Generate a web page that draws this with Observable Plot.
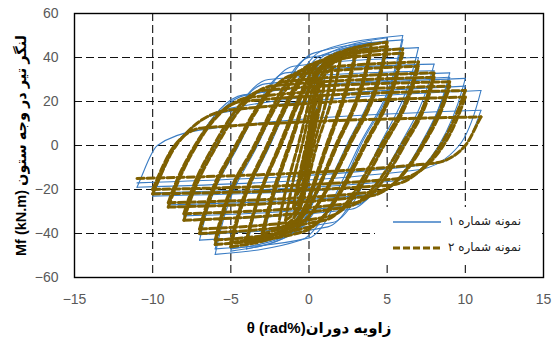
<!DOCTYPE html>
<html>
<head>
<meta charset="utf-8">
<script src="https://cdn.jsdelivr.net/npm/d3@7"></script>
<script src="https://cdn.jsdelivr.net/npm/@observablehq/plot@0.6"></script>
<style>
  html, body { margin: 0; padding: 0; background: #fff; }
  #wrap { position: relative; width: 553px; height: 344px; }
  #legend { position: absolute; left: 375px; top: 207px; width: 166px; height: 55px; background: #fff;
            font-family: "DejaVu Sans", sans-serif; font-size: 12px; color: #222; }
  .row { position: absolute; left: 0; height: 20px; width: 166px; }
  .row svg { position: absolute; left: 17px; top: 4px; }
  .row span { position: absolute; left: 73px; top: 1px; white-space: nowrap; }
</style>
</head>
<body>
<div id="wrap">
  <div id="chart"></div>
  <div id="legend"></div>
</div>
<script>
// Axis ticks and titles
const xTicks = [-15, -10, -5, 0, 5, 10, 15];
const yTicks = [-60, -40, -20, 0, 20, 40, 60];
const xTitle = "θ (rad%)زاویه دوران";
const yTitle = "Mf (kN.m) لنگر تیر در وجه ستون";
const seriesNames = ["نمونه شماره ۱", "نمونه شماره ۲"];

// Specimen 1 (blue): per cycle amplitude (rad%), peak moments, tip points, zero crossings and knee points
const amp1  = [0.375, 0.5, 0.75, 1, 1.5, 2, 3, 3, 4, 4, 5, 5, 6, 6, 7, 7, 8, 8, 9, 9, 10, 10, 11, 11];
const mPos1 = [12, 17, 24, 30, 37, 41, 45, 43, 47, 45, 49, 47, 50, 48, 44.5, 40, 37, 34, 33, 31, 30.5, 27, 25, 16];
const mNeg1 = [-11, -16, -23, -29, -36, -40, -44, -42, -47, -45, -48, -47, -49.5, -47, -43, -40.5, -34, -32, -28, -27, -23, -21.5, -19, -17];
const dUx1  = [0.33, 0.45, 0.69, 0.93, 1.42, 1.9, 2.85, 2.85, 3.85, 3.85, 4.85, 4.85, 5.85, 5.85, 6.85, 6.85, 7.85, 7.85, 8.85, 8.85, 9.85, 9.85, 10.85, 10.85];
const dUy1  = [10.5, 15, 21.5, 27, 33.5, 37, 40, 38, 42, 40, 44, 42, 45, 43, 40, 36, 33, 30, 29, 27.5, 26.5, 23.5, 21, 13];
const dRx1  = [-0.33, -0.45, -0.69, -0.93, -1.42, -1.9, -2.85, -2.85, -3.85, -3.85, -4.85, -4.85, -5.85, -5.85, -6.85, -6.85, -7.85, -7.85, -8.85, -8.85, -9.85, -9.85, -10.85, -10.85];
const dRy1  = [-9.5, -14, -20.5, -26, -32.5, -36, -39.5, -37.5, -42, -40, -43, -42, -44.5, -42, -38.5, -36, -30.5, -28.5, -25, -24, -20.5, -19, -16.5, -14.5];
const xr1   = [0, -0.05, -0.08, -0.12, -0.2, -0.45, -0.7, -1.2, -1.3, -1.8, -1.9, -2.5, -2.6, -3.3, -3.4, -4.5, -4.6, -5.9, -6.0, -7.2, -7.3, -8.5, -8.6, -9.7];
const kRx1  = [0.15, 0.22, 0.35, 0.45, 0.6, 0.7, 0.8, 0.7, 0.9, 0.8, 1.0, 0.8, 0.8, 0.3, 0.0, -1.0, -1.5, -2.6, -2.8, -4.0, -4.2, -5.0, -5.5, -7.0];
const kRy1  = [8, 12, 18, 23, 29, 33, 37, 36, 39, 38, 41, 41, 43, 42, 40, 36, 33, 30, 28, 23, 23, 17, 15, 7];
const xu1   = [0.03, 0.05, 0.1, 0.15, 0.3, 0.5, 1.1, 1.2, 1.7, 1.8, 2.4, 2.5, 3.2, 3.3, 4.5, 4.7, 5.8, 6.0, 7.1, 7.2, 8.3, 8.5, 9.6, 10.0];
const kUx1  = [-0.15, -0.22, -0.35, -0.45, -0.6, -0.7, -0.8, -0.7, -0.9, -0.8, -1.0, -0.8, -0.5, 0.0, 1.2, 1.5, 2.7, 3.0, 4.0, 4.3, 5.2, 5.6, 7.0, 8.2];
const kUy1  = [-7, -11, -17, -22, -28, -32, -36, -35, -39, -37, -40, -39, -43, -42, -37, -35, -29, -27, -23, -22, -18, -16, -11, -8];

// Specimen 2 (brown dashed)
const amp2  = [0.375, 0.5, 0.75, 1, 1.5, 2, 3, 3, 4, 4, 5, 5, 6, 6, 7, 7, 8, 8, 9, 9, 10, 10, 11];
const mPos2 = [11, 16, 23, 29, 35, 39, 43, 41, 46, 44, 47, 45, 44, 42, 38, 36, 33, 31, 29, 27, 25, 22, 13];
const mNeg2 = [-10, -15, -22, -28, -34, -38, -42, -40, -44, -43, -46, -44, -45, -43, -40, -38, -34, -31, -28, -26, -22, -20, -15];
const dUx2  = [0.33, 0.45, 0.69, 0.93, 1.42, 1.9, 2.85, 2.85, 3.85, 3.85, 4.85, 4.85, 5.85, 5.85, 6.85, 6.85, 7.85, 7.85, 8.85, 8.85, 9.85, 9.85, 10.85];
const dUy2  = [9.5, 14, 20.5, 26, 31.5, 35, 38.5, 36.5, 41, 39, 42, 40, 39.5, 37.5, 34, 32, 29, 27, 25.5, 23.5, 22, 19, 11];
const dRx2  = [-0.33, -0.45, -0.69, -0.93, -1.42, -1.9, -2.85, -2.85, -3.85, -3.85, -4.85, -4.85, -5.85, -5.85, -6.85, -6.85, -7.85, -7.85, -8.85, -8.85, -9.85, -9.85, -10.85];
const dRy2  = [-8.5, -13, -19.5, -25, -30.5, -34, -37.5, -35.5, -39.5, -38.5, -41.5, -39.5, -40.5, -38.5, -36, -34, -30.5, -27.5, -25, -23, -19.5, -17.5, -13];
const xr2   = [0, -0.05, -0.08, -0.12, -0.2, -0.45, -0.7, -1.2, -1.3, -1.8, -1.9, -2.6, -2.7, -3.4, -3.5, -4.6, -4.7, -5.9, -6.1, -7.2, -7.3, -8.5, -8.6];
const kRx2  = [0.15, 0.22, 0.35, 0.45, 0.6, 0.7, 0.8, 0.7, 0.9, 0.8, 0.9, 0.7, 0.5, 0.2, -0.5, -1.0, -1.6, -2.4, -3.0, -3.7, -4.3, -5.2, -6.8];
const kRy2  = [7, 11, 17, 22, 27, 31, 35, 34, 37, 36, 39, 38, 38, 37, 34, 32, 29, 27, 25, 22, 20, 16, 8];
const xu2   = [0.03, 0.05, 0.1, 0.15, 0.3, 0.5, 1.1, 1.2, 1.7, 1.8, 2.5, 2.6, 3.5, 3.6, 4.6, 4.8, 5.9, 6.1, 7.2, 7.3, 8.4, 8.6, 10.0];
const kUx2  = [-0.15, -0.22, -0.35, -0.45, -0.6, -0.7, -0.8, -0.7, -0.9, -0.8, -0.9, -0.7, -0.3, 0.0, 1.0, 1.4, 2.4, 3.0, 3.9, 4.3, 5.2, 5.8, 8.0];
const kUy2  = [-6, -10, -16, -21, -26, -30, -34, -33, -36, -35, -38, -36, -39, -37, -34, -32, -28, -26, -23, -21, -18, -15, -8];

const colors = ["#3b7dc4", "#7f6000"];

function buildRows(spec, s) {
  const rows = [];
  const push = (pts, z) => {
    let lastX = -Infinity;
    for (const [x, y] of pts) {
      if (x <= lastX) continue;
      rows.push({ spec, z, x, y });
      lastX = x;
    }
  };
  for (let i = 0; i < s.amp.length; i++) {
    const reload = i === 0
      ? [[0, 0]]
      : [[-s.amp[i - 1], s.mNeg[i - 1]], [s.dRx[i - 1], s.dRy[i - 1]], [s.xr[i], 0]];
    reload.push([s.kRx[i], s.kRy[i]], [s.amp[i], s.mPos[i]]);
    push(reload, spec + "-r" + i);
    push([[-s.amp[i], s.mNeg[i]], [s.kUx[i], s.kUy[i]], [s.xu[i], 0], [s.dUx[i], s.dUy[i]], [s.amp[i], s.mPos[i]]], spec + "-u" + i);
  }
  return rows;
}

const rows1 = buildRows("s1", { amp: amp1, mPos: mPos1, mNeg: mNeg1, dUx: dUx1, dUy: dUy1, dRx: dRx1, dRy: dRy1, xr: xr1, kRx: kRx1, kRy: kRy1, xu: xu1, kUx: kUx1, kUy: kUy1 });
const rows2 = buildRows("s2", { amp: amp2, mPos: mPos2, mNeg: mNeg2, dUx: dUx2, dUy: dUy2, dRx: dRx2, dRy: dRy2, xr: xr2, kRx: kRx2, kRy: kRy2, xu: xu2, kUx: kUx2, kUy: kUy2 });

const inner = (t) => t.slice(1, -1);
const titleFont = "'Liberation Sans', 'DejaVu Sans', sans-serif";

const chart = Plot.plot({
  width: 553,
  height: 344,
  marginLeft: 74,
  marginRight: 10,
  marginTop: 13,
  marginBottom: 67,
  style: { fontFamily: "'Liberation Sans', Arial, sans-serif", fontSize: "14px", background: "#fff", overflow: "visible" },
  x: { domain: [-15, 15] },
  y: { domain: [-60, 60] },
  marks: [
    Plot.gridX(inner(xTicks), { stroke: "#111", strokeOpacity: 1, strokeWidth: 1.1, strokeDasharray: "8,4" }),
    Plot.gridY(inner(yTicks), { stroke: "#111", strokeOpacity: 1, strokeWidth: 1.1, strokeDasharray: "8,4" }),
    Plot.line(rows1, { x: "x", y: "y", z: "z", curve: "monotone-x", stroke: colors[0], strokeWidth: 1.1 }),
    Plot.line(rows2, { x: "x", y: "y", z: "z", curve: "monotone-x", stroke: colors[1], strokeWidth: 3, strokeDasharray: "7,3" }),
    Plot.frame({ stroke: "#000", strokeWidth: 1.4 }),
    Plot.axisX(xTicks, { tickSize: 0, tickPadding: 17, color: "#595959", label: null, fontSize: 14 }),
    Plot.axisY(yTicks, { tickSize: 0, tickPadding: 16, color: "#595959", label: null, fontSize: 14 }),
    Plot.text([xTitle], { text: d => d, frameAnchor: "bottom", lineAnchor: "middle", textAnchor: "middle", dy: 51, dx: 10, fontWeight: "bold", fontSize: 15, fill: "#000", fontFamily: titleFont }),
    Plot.text([yTitle], { text: d => d, frameAnchor: "left", lineAnchor: "middle", textAnchor: "middle", dx: -53, rotate: -90, fontWeight: "bold", fontSize: 14.5, fill: "#000", fontFamily: titleFont })
  ]
});
document.getElementById("chart").appendChild(chart);

// Legend
const legend = document.getElementById("legend");
seriesNames.forEach((name, i) => {
  const row = document.createElement("div");
  row.className = "row";
  row.style.top = (i === 0 ? 6 : 32) + "px";
  const dash = i === 0 ? "" : ' stroke-dasharray="7,3"';
  const sw = i === 0 ? 1.5 : 3;
  row.innerHTML = `<svg width="50" height="10"><line x1="1" y1="5" x2="49" y2="5" stroke="${colors[i]}" stroke-width="${sw}"${dash}/></svg><span>${name}</span>`;
  legend.appendChild(row);
});
</script>
</body>
</html>
